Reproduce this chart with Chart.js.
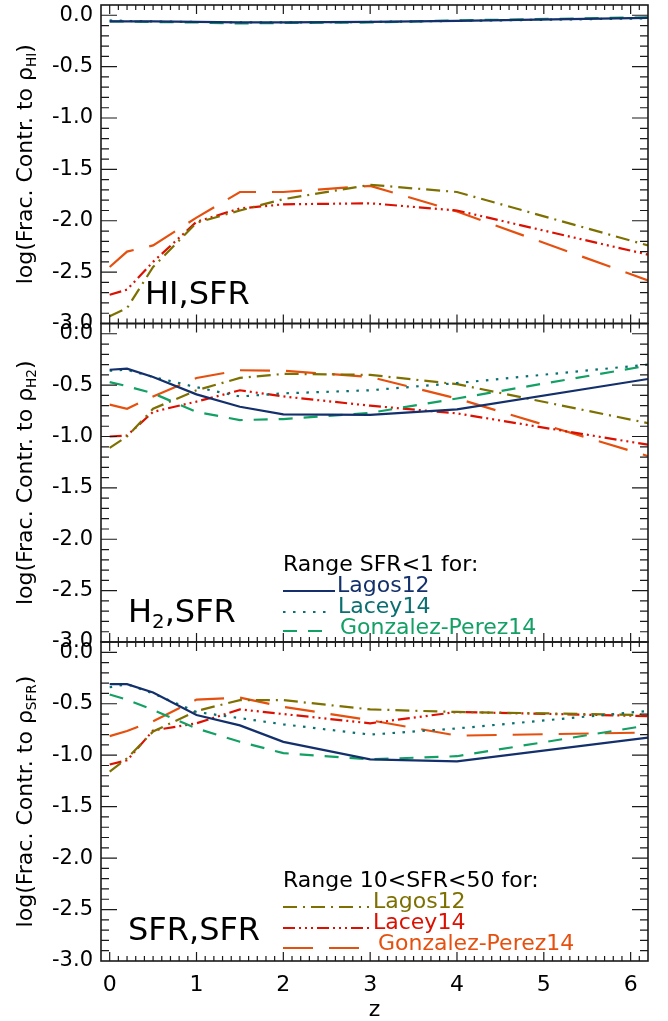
<!DOCTYPE html>
<html>
<head>
<meta charset="utf-8">
<script src="https://cdn.jsdelivr.net/npm/chart.js@4.4.1/dist/chart.umd.min.js"></script>
<style>
  html, body { margin: 0; padding: 0; background: #fff; }
  #wrap { position: relative; width: 668px; height: 1021px; overflow: hidden; }
  #wrap canvas { position: absolute; left: 0; top: 0; }
</style>
</head>
<body>
<div id="wrap">
  <canvas id="p1" width="668" height="1021"></canvas>
  <canvas id="p2" width="668" height="1021"></canvas>
  <canvas id="p3" width="668" height="1021"></canvas>
</div>
<script>
// redshift nodes shared by all curves
const Z = [0, 0.2, 0.5, 1, 1.5, 2, 3, 4, 6.2];
const X_TICKS = [0, 1, 2, 3, 4, 5, 6];
const Y_TICKS = [-3.0, -2.5, -2.0, -1.5, -1.0, -0.5, 0.0];

// panel 1: contribution to rho_HI
const HI_LAGOS_LOW = [-0.06, -0.06, -0.06, -0.065, -0.07, -0.07, -0.065, -0.055, -0.025];
const HI_LACEY_LOW = [-0.05, -0.055, -0.06, -0.065, -0.07, -0.07, -0.065, -0.055, -0.03];
const HI_GP_LOW    = [-0.06, -0.06, -0.065, -0.07, -0.08, -0.075, -0.07, -0.05, -0.02];
const HI_LAGOS_MID = [-2.93, -2.85, -2.45, -2.02, -1.90, -1.79, -1.65, -1.72, -2.24];
const HI_LACEY_MID = [-2.72, -2.67, -2.40, -2.01, -1.88, -1.84, -1.83, -1.90, -2.33];
const HI_GP_MID    = [-2.45, -2.30, -2.24, -1.97, -1.72, -1.72, -1.66, -1.91, -2.58];

// panel 2: contribution to rho_H2
const H2_LAGOS_LOW = [-0.35, -0.34, -0.42, -0.59, -0.71, -0.785, -0.79, -0.735, -0.44];
const H2_LACEY_LOW = [-0.36, -0.35, -0.42, -0.52, -0.61, -0.58, -0.55, -0.48, -0.30];
const H2_GP_LOW    = [-0.47, -0.51, -0.58, -0.76, -0.84, -0.83, -0.77, -0.63, -0.31];
const H2_LAGOS_MID = [-1.11, -1.00, -0.73, -0.55, -0.43, -0.39, -0.40, -0.49, -0.87];
const H2_LACEY_MID = [-1.00, -0.99, -0.76, -0.66, -0.55, -0.61, -0.70, -0.775, -1.08];
const H2_GP_MID    = [-0.69, -0.73, -0.61, -0.43, -0.355, -0.36, -0.42, -0.63, -1.19];

// panel 3: contribution to rho_SFR
const SFR_LAGOS_LOW = [-0.31, -0.31, -0.39, -0.61, -0.71, -0.87, -1.04, -1.06, -0.83];
const SFR_LACEY_LOW = [-0.34, -0.31, -0.40, -0.58, -0.64, -0.70, -0.80, -0.74, -0.57];
const SFR_GP_LOW    = [-0.41, -0.46, -0.56, -0.74, -0.87, -0.98, -1.04, -1.01, -0.71];
const SFR_LAGOS_MID = [-1.16, -1.03, -0.77, -0.57, -0.465, -0.465, -0.555, -0.58, -0.61];
const SFR_LACEY_MID = [-1.09, -1.05, -0.76, -0.69, -0.555, -0.60, -0.69, -0.58, -0.62];
const SFR_GP_MID    = [-0.815, -0.765, -0.67, -0.46, -0.44, -0.53, -0.66, -0.81, -0.78];

// line styles per model / SFR range
const STYLE = {
  lagosLow: { label: 'Lagos12', color: '#13306c', dash: [] },
  laceyLow: { label: 'Lacey14', color: '#0a6f70', dash: [2.5, 7.5] },
  gpLow:    { label: 'Gonzalez-Perez14', color: '#12a064', dash: [14, 11] },
  lagosMid: { label: 'Lagos12', color: '#7d7000', dash: [14, 6, 2, 6] },
  laceyMid: { label: 'Lacey14', color: '#dc1000', dash: [12, 4, 2, 4, 2, 4, 2, 4] },
  gpMid:    { label: 'Gonzalez-Perez14', color: '#e6500e', dash: [30, 16] }
};

const FONT = '"DejaVu Sans", Verdana, sans-serif';
Chart.defaults.font.family = FONT;
Chart.defaults.color = '#000';

function ds(st, values) {
  return {
    label: st.label,
    data: Z.map((z, i) => ({ x: z, y: values[i] })),
    borderColor: st.color,
    borderDash: st.dash,
    borderWidth: 2.2,
    pointRadius: 0,
    tension: 0,
    fill: false
  };
}

// text with subscripts: parts = [[text, isSub], ...]
function richWidth(ctx, parts, size) {
  let w = 0;
  for (const [t, sub] of parts) {
    ctx.font = (sub ? size * 0.62 : size) + 'px ' + FONT;
    w += ctx.measureText(t).width;
  }
  return w;
}
function drawRich(ctx, parts, x, y, size) {
  for (const [t, sub] of parts) {
    ctx.font = (sub ? size * 0.62 : size) + 'px ' + FONT;
    ctx.fillText(t, x, sub ? y + size * 0.2 : y);
    x += ctx.measureText(t).width;
  }
}

// IDL-style frame: box plus inward major/minor ticks on all four sides
const frame = {
  id: 'frame',
  afterDatasetsDraw(chart) {
    const { ctx, chartArea: a, scales: { x, y } } = chart;
    ctx.save();
    ctx.strokeStyle = '#1a1a1a';
    ctx.lineWidth = 1.2;
    ctx.beginPath();
    for (let i = -29; i <= 0; i++) {
      const py = y.getPixelForValue(i / 10);
      const len = i % 5 === 0 ? 16 : 8;
      ctx.moveTo(a.left, py); ctx.lineTo(a.left + len, py);
      ctx.moveTo(a.right, py); ctx.lineTo(a.right - len, py);
    }
    for (let i = 0; i <= 61; i++) {
      const px = x.getPixelForValue(i / 10);
      const len = i % 10 === 0 ? 9 : 5;
      ctx.moveTo(px, a.top); ctx.lineTo(px, a.top + len);
      ctx.moveTo(px, a.bottom); ctx.lineTo(px, a.bottom - len);
    }
    ctx.stroke();
    ctx.lineWidth = 1.6;
    ctx.strokeRect(a.left, a.top, a.right - a.left, a.bottom - a.top);
    ctx.restore();
  },
  afterDraw(chart, args, opts) {
    const { ctx, chartArea: a } = chart;
    ctx.save();
    ctx.fillStyle = '#000';
    ctx.textBaseline = 'alphabetic';
    // rotated y title
    const tw = richWidth(ctx, opts.title, 22);
    ctx.translate(32, (a.top + a.bottom) / 2);
    ctx.rotate(-Math.PI / 2);
    drawRich(ctx, opts.title, -tw / 2, 0, 22);
    ctx.restore();

    ctx.save();
    ctx.fillStyle = '#000';
    drawRich(ctx, opts.tag, opts.tagX, opts.tagY, 32);
    if (opts.legend) {
      const L = opts.legend;
      ctx.font = '22px ' + FONT;
      ctx.fillText(L.head, 283, L.headY);
      L.rows.forEach((r, i) => {
        const st = r.style;
        const yy = L.headY + 21 * (i + 1);
        ctx.strokeStyle = st.color;
        ctx.lineWidth = 2;
        ctx.setLineDash(st.dash);
        ctx.beginPath();
        ctx.moveTo(283, yy - 1 + r.dy);
        ctx.lineTo(r.x1, yy - 1 + r.dy);
        ctx.stroke();
        ctx.setLineDash([]);
        ctx.fillStyle = st.color;
        ctx.fillText(st.label, r.tx, yy);
      });
    }
    ctx.restore();
  }
};

function makePanel(id, padTop, padBottom, showX, sets, opts) {
  return new Chart(document.getElementById(id), {
    type: 'line',
    data: { datasets: sets },
    options: {
      responsive: false,
      animation: false,
      devicePixelRatio: 1,
      layout: { padding: { left: 0, right: 20, top: padTop, bottom: padBottom } },
      plugins: { legend: { display: false }, tooltip: { enabled: false }, frame: opts },
      scales: {
        x: {
          type: 'linear', min: -0.1, max: 6.2,
          display: showX,
          afterBuildTicks: s => { s.ticks = X_TICKS.map(v => ({ value: v })); },
          afterFit: s => { s.height = showX ? 60 : 0; s.paddingLeft = 0; s.paddingRight = 0; },
          grid: { display: false, drawTicks: false },
          border: { display: false },
          ticks: { font: { size: 22 }, padding: 11, maxRotation: 0, color: '#000' },
          title: { display: true, text: 'z', font: { size: 22, lineHeight: 1 }, padding: 0, color: '#000' }
        },
        y: {
          type: 'linear', min: -3.0, max: 0.1,
          afterBuildTicks: s => { s.ticks = Y_TICKS.map(v => ({ value: v })); },
          afterFit: s => { s.width = 101; s.paddingTop = 0; s.paddingBottom = 0; },
          grid: { display: false, drawTicks: false },
          border: { display: false },
          ticks: { font: { size: 21 }, padding: 8, color: '#000', callback: v => v.toFixed(1) }
        }
      }
    },
    plugins: [frame]
  });
}

function allSets(lagosL, laceyL, gpL, lagosM, laceyM, gpM) {
  return [
    ds(STYLE.lagosLow, lagosL), ds(STYLE.laceyLow, laceyL), ds(STYLE.gpLow, gpL),
    ds(STYLE.lagosMid, lagosM), ds(STYLE.laceyMid, laceyM), ds(STYLE.gpMid, gpM)
  ];
}

makePanel('p1', 5, 697.5, false,
  allSets(HI_LAGOS_LOW, HI_LACEY_LOW, HI_GP_LOW, HI_LAGOS_MID, HI_LACEY_MID, HI_GP_MID),
  {
    title: [['log(Frac. Contr. to \u03c1', false], ['HI', true], [')', false]],
    tag: [['HI,SFR', false]], tagX: 145, tagY: 304
  });

makePanel('p2', 323.5, 379, false,
  allSets(H2_LAGOS_LOW, H2_LACEY_LOW, H2_GP_LOW, H2_LAGOS_MID, H2_LACEY_MID, H2_GP_MID),
  {
    title: [['log(Frac. Contr. to \u03c1', false], ['H2', true], [')', false]],
    tag: [['H', false], ['2', true], [',SFR', false]], tagX: 128, tagY: 622,
    legend: {
      head: 'Range SFR<1 for:', headY: 571,
      rows: [
        { style: STYLE.lagosLow, x1: 335, tx: 337, dy: 0 },
        { style: STYLE.laceyLow, x1: 331, tx: 338, dy: 0 },
        { style: STYLE.gpLow, x1: 331, tx: 340, dy: -2 }
      ]
    }
  });

makePanel('p3', 642, 0, true,
  allSets(SFR_LAGOS_LOW, SFR_LACEY_LOW, SFR_GP_LOW, SFR_LAGOS_MID, SFR_LACEY_MID, SFR_GP_MID),
  {
    title: [['log(Frac. Contr. to \u03c1', false], ['SFR', true], [')', false]],
    tag: [['SFR,SFR', false]], tagX: 128, tagY: 940,
    legend: {
      head: 'Range 10<SFR<50 for:', headY: 887,
      rows: [
        { style: STYLE.lagosMid, x1: 369, tx: 373, dy: 0 },
        { style: STYLE.laceyMid, x1: 369, tx: 373, dy: 0 },
        { style: STYLE.gpMid, x1: 361, tx: 378, dy: -1 }
      ]
    }
  });
</script>
</body>
</html>
